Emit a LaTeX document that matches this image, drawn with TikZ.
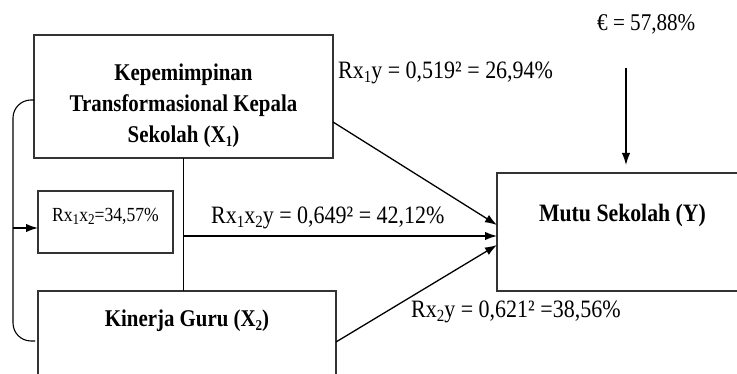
\documentclass[tikz,border=0pt]{standalone}
\usepackage{fontspec}
\setmainfont{Liberation Serif}
\newfontfamily\bnarrow[FakeStretch=0.87]{Liberation Serif}
\newfontfamily\rnarrow[FakeStretch=0.88]{Liberation Serif}
\usetikzlibrary{arrows.meta,calc}
\newcommand\sbs[1]{\raisebox{-0.3ex}{\fontsize{17}{17}\selectfont #1}}
\newcommand\sbb[1]{\raisebox{-0.3ex}{\fontsize{15}{15}\selectfont #1}}
\begin{document}
\begin{tikzpicture}[x=1pt,y=1pt,
  box/.style={draw=black!80, line width=1.3pt, inner sep=0pt, outer sep=0pt},
  conn/.style={draw=black, line width=1.3pt},
  arr/.style={conn, -{Latex[length=12pt,width=8.5pt]}},
  lab/.style={inner sep=0pt, font=\rnarrow\fontsize{25}{28}\selectfont},
  btxt/.style={inner sep=0pt, font=\bnarrow\bfseries\fontsize{24}{31}\selectfont}]
\useasboundingbox (0,0) rectangle (737,374);
\clip (0,0) rectangle (737,374);
% boxes
\node[box, minimum width=299pt, minimum height=123pt] (X1) at (183.5,277.5) {};
\node[box, minimum width=298pt, minimum height=143pt] (X2) at (187,11.5) {};
\node[box, minimum width=283pt, minimum height=118pt] (Y) at (638.5,142) {};
\node[box, minimum width=135pt, minimum height=62pt] (SB) at (105.5,152) {};
% box texts
\node[btxt, align=center] (t1) at (183.5,268) {Kepemimpinan\\Transformasional Kepala\\Sekolah (X\sbb{1})};
\node[btxt, anchor=base] (t2) at (187,47) {Kinerja Guru (X\sbb{2})};
\node[btxt, anchor=base, font=\bnarrow\bfseries\fontsize{25}{30}\selectfont] (t3) at (622.5,152) {Mutu Sekolah (Y)};
\node[inner sep=0pt, anchor=base, font=\rnarrow\fontsize{20}{24}\selectfont] (t4) at (105.5,152) {Rx\sbb{1}x\sbb{2}=34,57\%};
% coordinates
\coordinate (b1) at (X1.west |- 0,274);
\coordinate (b2) at (13,274);
\coordinate (b3) at (13,33);
\coordinate (b4) at (35,33);
\coordinate (bl) at (13,146);
\coordinate (j) at (X1.south |- 0,138);
\coordinate (etop) at (626,306);
% bracket
\draw[conn, line width=1.1pt, rounded corners=18pt] (b1) -- (b2) -- (b3) -- (b4);
\draw[arr] (bl) -- (SB.west |- bl);
% vertical connector
\draw[conn] (X1.south) -- (X2.north -| X1.south);
% arrows to Y
\draw[arr] (j) -- (Y.west |- j);
\draw[arr] (X1.east |- 0,252) -- (Y.west |- 0,149);
\draw[arr] (X2.east |- 0,32) -- (Y.west |- 0,129);
\draw[arr] (etop) -- ([yshift=8pt]Y.north -| etop);
% labels
\node[lab, anchor=base west] (l1) at (338,295) {Rx\sbs{1}y = 0,519² = 26,94\%};
\node[lab, anchor=base west] (l2) at (211,150) {Rx\sbs{1}x\sbs{2}y = 0,649² = 42,12\%};
\node[lab, anchor=base west] (l3) at (411,56) {Rx\sbs{2}y = 0,621² =38,56\%};
\node[lab, anchor=base west, font=\rnarrow\fontsize{24}{28}\selectfont] (l4) at (597,343) {€ = 57,88\%};
\end{tikzpicture}
\end{document}
